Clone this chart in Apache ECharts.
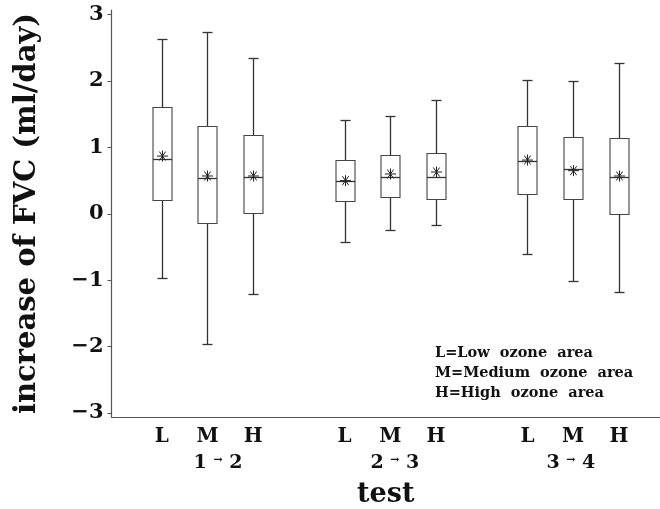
<!doctype html>
<html>
<head>
<meta charset="utf-8">
<title>increase of FVC by test and ozone area</title>
<script src="https://cdn.jsdelivr.net/npm/echarts@6/dist/echarts.min.js"></script>
<style>
    html, body { margin: 0; padding: 0; background: #fff; overflow: hidden; }
    #chart { width: 660px; height: 509px; }
</style>
</head>
<body>
<div id="chart"></div>
<script>
// box positions on the x scale (gaps of one slot between tests)
var positions = [1, 2, 3, 5, 6, 7, 9, 10, 11];
var areaLabels = ['L', 'M', 'H', 'L', 'M', 'H', 'L', 'M', 'H'];
var testLabels = ['1|2', '2|3', '3|4'];
var testLabelPos = [2.23, 6.1, 9.95];
var yTicks = [-3, -2, -1, 0, 1, 2, 3];

var whiskerLow  = [-0.97, -1.96, -1.20, -0.42, -0.24, -0.17, -0.60, -1.01, -1.17];
var q1          = [ 0.21, -0.14,  0.01,  0.19,  0.25,  0.22,  0.30,  0.23,  0.00];
var medians     = [ 0.82,  0.54,  0.55,  0.50,  0.55,  0.55,  0.80,  0.67,  0.55];
var q3          = [ 1.61,  1.33,  1.18,  0.81,  0.88,  0.92,  1.33,  1.16,  1.14];
var whiskerHigh = [ 2.64,  2.74,  2.34,  1.41,  1.48,  1.71,  2.01,  2.00,  2.27];
var means       = [ 0.87,  0.57,  0.57,  0.50,  0.60,  0.63,  0.81,  0.65,  0.57];

var legendLines = ['L=Low  ozone  area', 'M=Medium  ozone  area', 'H=High  ozone  area'];

var serif = '"DejaVu Serif", "Liberation Serif", serif';
var ink = '#111';
var lineCol = '#333';

var rows = positions.map(function (p, i) {
    return [p, whiskerLow[i], q1[i], medians[i], q3[i], whiskerHigh[i], means[i]];
});

function px(v) { return Math.round(v) + 0.5; }

function renderBox(params, api) {
    var x = api.value(0);
    var cx = px(api.coord([x, 0])[0]);
    var yLow = px(api.coord([x, api.value(1)])[1]);
    var yQ1 = px(api.coord([x, api.value(2)])[1]);
    var yMed = px(api.coord([x, api.value(3)])[1]);
    var yQ3 = px(api.coord([x, api.value(4)])[1]);
    var yHigh = px(api.coord([x, api.value(5)])[1]);
    var yMean = api.coord([x, api.value(6)])[1];
    var half = 9.5, cap = 5, r = 5.5;
    var st = { stroke: lineCol, lineWidth: 1.3, fill: null };
    var thin = { stroke: '#222', lineWidth: 1 };
    function seg(x1, y1, x2, y2, s) {
        return { type: 'line', shape: { x1: x1, y1: y1, x2: x2, y2: y2 }, style: s || st };
    }
    var kids = [
        seg(cx, yQ3, cx, yHigh),
        seg(cx, yLow, cx, yQ1),
        seg(cx - cap, yHigh, cx + cap, yHigh),
        seg(cx - cap, yLow, cx + cap, yLow),
        { type: 'rect', shape: { x: cx - half, y: yQ3, width: half * 2, height: yQ1 - yQ3 }, style: { stroke: '#444', lineWidth: 1.1, fill: null } },
        seg(cx - half, yMed, cx + half, yMed)
    ];
    // asterisk for the mean
    [0, 55, 90, 125].forEach(function (deg) {
        var a = deg * Math.PI / 180;
        var dx = r * Math.cos(a), dy = r * Math.sin(a);
        kids.push(seg(cx - dx, yMean - dy, cx + dx, yMean + dy, thin));
    });
    return { type: 'group', children: kids };
}

var chart = echarts.init(document.getElementById('chart'));
chart.setOption({
    backgroundColor: '#fff',
    animation: false,
    grid: { left: 111.5, right: 0, top: 10, bottom: 92, containLabel: false, outerBoundsMode: 'none' },
    xAxis: [{
        type: 'value',
        min: -0.1,
        max: 11.9,
        position: 'bottom',
        axisLine: { show: true, onZero: false, lineStyle: { color: '#555', width: 1.2 } },
        axisTick: { show: false },
        splitLine: { show: false },
        axisLabel: {
            customValues: positions,
            margin: 10,
            color: ink,
            fontFamily: serif,
            fontWeight: 'bold',
            fontSize: 20,
            formatter: function (v) { return areaLabels[positions.indexOf(v)]; }
        },
        name: 'test',
        nameLocation: 'middle',
        nameGap: 64,
        nameTextStyle: { color: ink, fontFamily: serif, fontWeight: 'bold', fontSize: 27 }
    }, {
        type: 'value',
        min: -0.1,
        max: 11.9,
        position: 'bottom',
        axisLine: { show: false, onZero: false },
        axisTick: { show: false },
        splitLine: { show: false },
        axisLabel: {
            customValues: testLabelPos,
            margin: 37,
            color: ink,
            fontFamily: serif,
            fontWeight: 'bold',
            fontSize: 19,
            formatter: function (v) {
                var p = testLabels[testLabelPos.indexOf(v)].split('|');
                return p[0] + ' {a|→} ' + p[1];
            },
            rich: { a: { fontSize: 11, fontFamily: serif, fontWeight: 'bold', color: ink, padding: [0, 0, 6, 0] } }
        }
    }],
    yAxis: {
        type: 'value',
        min: -3.06,
        max: 3.07,
        axisLine: { show: true, onZero: false, lineStyle: { color: '#555', width: 1.2 } },
        axisTick: { show: true, customValues: yTicks, length: 4, lineStyle: { color: '#555' } },
        splitLine: { show: false },
        axisLabel: {
            customValues: yTicks,
            margin: 8,
            color: ink,
            fontFamily: serif,
            fontWeight: 'bold',
            fontSize: 21,
            formatter: function (v) { return String(v).replace('-', '−'); }
        },
        name: 'increase of FVC (ml/day)',
        nameLocation: 'middle',
        nameGap: 70,
        nameTextStyle: { color: ink, fontFamily: serif, fontWeight: 'bold', fontSize: 29 }
    },
    graphic: [{
        type: 'group',
        left: 435,
        top: 346,
        children: legendLines.map(function (t, i) {
            return { type: 'text', x: 0, y: i * 20, style: { text: t, font: 'bold 14.5px ' + serif, fill: ink } };
        })
    }],
    series: [{
        type: 'custom',
        xAxisIndex: 0,
        renderItem: renderBox,
        encode: { x: 0, y: [1, 2, 3, 4, 5, 6] },
        data: rows,
        silent: true
    }]
});
</script>
</body>
</html>
